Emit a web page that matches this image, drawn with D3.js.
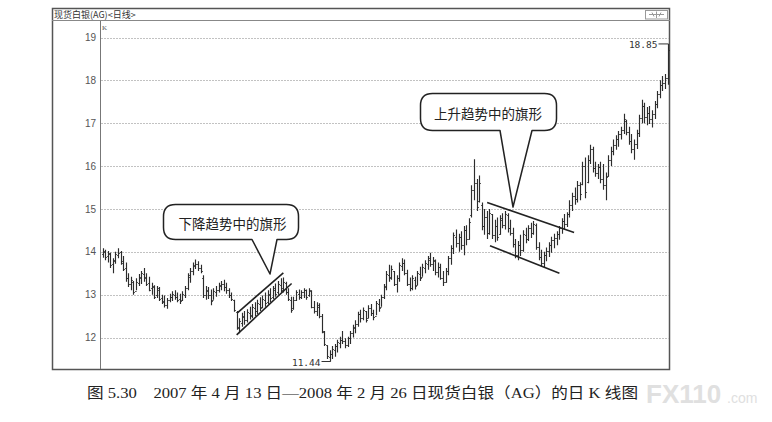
<!DOCTYPE html>
<html><head><meta charset="utf-8">
<script src="https://cdn.jsdelivr.net/npm/d3@7"></script>
<style>body{margin:0;background:#fff}svg{display:block}</style>
</head><body><svg id="c" width="772" height="422"></svg>
<script>
const chartTitle = "现货白银(AG)<日线>";
const caption = "图 5.30　2007 年 4 月 13 日—2008 年 2 月 26 日现货白银（AG）的日 K 线图";
const yTicks = [12, 13, 14, 15, 16, 17, 18, 19];
const opens = [
13.95,14.00,13.90,13.95,13.72,13.78,13.92,14.00,13.78,13.62,
13.40,13.25,13.30,13.08,13.28,13.40,13.48,13.42,13.28,13.15,
13.18,12.98,13.12,12.92,12.85,12.75,12.88,12.95,13.00,12.95,
12.90,12.88,13.00,13.15,13.42,13.55,13.68,13.72,13.62,13.40,
13.00,13.08,12.98,12.88,13.05,13.10,13.20,13.25,13.18,13.10,
12.98,12.88,12.60,12.22,12.35,12.48,12.42,12.58,12.52,12.70,
12.62,12.78,12.72,12.88,12.82,13.00,12.95,13.12,13.05,13.22,
13.15,13.28,13.05,12.88,12.68,12.88,13.02,12.95,13.05,13.10,
12.98,13.08,12.72,12.62,12.72,12.50,12.12,11.82,11.55,11.62,
11.70,11.80,11.88,11.95,11.92,11.82,11.98,12.10,12.22,12.32,
12.55,12.45,12.62,12.45,12.70,12.58,12.50,12.78,12.72,12.95,
13.18,13.45,13.42,13.55,13.25,13.38,13.68,13.75,13.50,13.25,
13.15,13.35,13.22,13.48,13.42,13.62,13.72,13.82,13.72,13.78,
13.52,13.65,13.40,13.30,13.55,13.85,14.10,14.35,14.20,14.35,
14.15,14.50,14.30,14.85,15.45,15.60,15.18,15.10,14.60,14.80,
14.45,14.88,14.40,14.60,14.42,14.75,14.62,14.85,14.55,14.45,
14.18,13.92,14.15,14.05,14.40,14.30,14.55,14.45,14.62,14.12,
13.88,13.75,13.92,14.02,14.15,14.28,14.32,14.42,14.55,14.72,
14.65,14.88,15.10,15.30,15.22,15.55,15.58,16.00,15.62,16.15,
16.40,15.95,15.85,15.98,15.70,15.55,15.78,16.15,16.35,16.50,
16.62,16.75,16.85,17.05,16.80,16.58,16.40,16.52,16.78,17.12,
17.40,17.15,17.25,17.10,17.22,17.45,17.68,17.90,17.95,18.05];
const highs = [
14.08,14.05,14.02,13.98,13.85,14.00,14.08,14.02,13.90,13.75,
13.50,13.42,13.32,13.38,13.48,13.55,13.62,13.50,13.42,13.28,
13.22,13.20,13.18,13.00,12.98,12.92,13.02,13.08,13.10,13.05,
13.02,13.08,13.20,13.50,13.62,13.75,13.82,13.78,13.70,13.45,
13.20,13.18,13.12,13.15,13.20,13.28,13.32,13.35,13.28,13.15,
13.05,12.88,12.62,12.45,12.58,12.62,12.66,12.72,12.78,12.82,
12.88,12.94,12.98,13.05,13.10,13.15,13.20,13.26,13.32,13.38,
13.40,13.30,13.15,12.95,12.95,13.10,13.12,13.10,13.15,13.12,
13.15,13.10,12.85,12.82,12.80,12.55,12.15,11.82,11.70,11.80,
11.85,11.95,12.02,12.15,11.98,12.02,12.15,12.30,12.40,12.60,
12.65,12.70,12.62,12.75,12.78,12.65,12.85,12.90,13.00,13.25,
13.55,13.70,13.68,13.55,13.45,13.75,13.85,13.82,13.58,13.40,
13.45,13.42,13.55,13.65,13.72,13.80,13.90,13.98,13.88,13.82,
13.75,13.72,13.55,13.62,13.90,14.15,14.45,14.52,14.42,14.48,
14.60,14.62,14.78,15.55,16.16,15.70,15.78,15.15,15.00,14.95,
15.00,14.88,14.75,14.80,14.85,14.90,14.95,14.90,14.75,14.56,
14.30,14.25,14.40,14.50,14.56,14.62,14.68,14.72,14.66,14.22,
14.05,14.00,14.10,14.22,14.35,14.42,14.48,14.60,14.78,14.88,
14.92,15.20,15.38,15.50,15.65,15.62,16.10,16.20,16.25,16.50,
16.45,16.10,16.05,16.10,16.05,15.85,16.25,16.45,16.62,16.72,
16.82,16.92,17.22,17.08,16.92,16.75,16.62,16.85,17.20,17.55,
17.48,17.38,17.40,17.30,17.52,17.75,18.00,18.10,18.15,18.85];
const lows = [
13.86,13.80,13.75,13.62,13.50,13.72,13.85,13.70,13.55,13.30,
13.18,13.10,13.00,13.10,13.20,13.25,13.30,13.20,13.08,13.00,
12.90,12.92,12.85,12.78,12.70,12.67,12.82,12.85,12.88,12.82,
12.78,12.85,12.92,13.10,13.28,13.45,13.60,13.55,13.50,12.92,
12.88,12.90,12.75,12.88,12.95,13.05,13.10,13.08,13.02,12.92,
12.85,12.60,12.18,12.10,12.25,12.30,12.35,12.42,12.45,12.50,
12.55,12.62,12.68,12.72,12.78,12.82,12.90,12.95,13.00,13.05,
13.05,13.00,12.85,12.58,12.65,12.85,12.88,12.90,12.92,12.88,
12.95,12.68,12.56,12.50,12.45,12.10,11.80,11.50,11.44,11.50,
11.55,11.65,11.75,11.85,11.75,11.78,11.85,12.00,12.10,12.25,
12.35,12.40,12.35,12.45,12.50,12.40,12.52,12.60,12.72,12.90,
13.10,13.30,13.35,13.20,13.05,13.30,13.55,13.45,13.20,13.08,
13.10,13.12,13.22,13.32,13.42,13.50,13.58,13.65,13.55,13.45,
13.40,13.35,13.20,13.28,13.45,13.70,13.95,14.10,14.00,14.05,
13.92,14.15,14.28,14.80,15.20,14.95,15.15,14.50,14.40,14.30,
14.40,14.30,14.22,14.26,14.40,14.55,14.52,14.45,14.38,14.10,
13.85,13.80,13.90,14.00,14.20,14.25,14.32,14.40,14.05,13.80,
13.65,13.63,13.78,13.88,13.98,14.08,14.15,14.28,14.42,14.52,
14.58,14.80,14.95,15.10,15.15,15.20,15.55,15.25,15.60,16.05,
15.85,15.75,15.70,15.60,15.45,15.20,15.75,16.00,16.25,16.38,
16.45,16.62,16.75,16.72,16.50,16.30,16.15,16.40,16.68,17.00,
17.00,16.95,16.98,16.90,17.10,17.35,17.58,17.75,17.80,17.90];
const closes = [
14.02,13.88,13.96,13.70,13.80,13.95,13.98,13.75,13.60,13.38,
13.25,13.35,13.05,13.30,13.42,13.50,13.40,13.25,13.12,13.20,
12.95,13.15,12.90,12.82,12.75,12.88,12.95,13.02,12.95,12.88,
12.85,13.02,13.15,13.45,13.55,13.70,13.72,13.62,13.55,13.00,
13.10,12.98,12.85,13.08,13.12,13.22,13.25,13.18,13.10,12.98,
12.90,12.65,12.25,12.38,12.50,12.40,12.60,12.50,12.72,12.62,
12.80,12.70,12.90,12.80,13.02,12.92,13.15,13.02,13.25,13.12,
13.30,13.05,12.90,12.65,12.88,13.05,12.95,13.05,13.10,12.95,
13.10,12.72,12.62,12.75,12.50,12.15,11.85,11.58,11.62,11.72,
11.80,11.90,11.95,11.92,11.82,11.98,12.10,12.25,12.32,12.55,
12.45,12.65,12.42,12.70,12.58,12.48,12.80,12.70,12.95,13.20,
13.48,13.40,13.60,13.25,13.38,13.70,13.75,13.50,13.25,13.15,
13.38,13.20,13.50,13.40,13.65,13.75,13.85,13.72,13.80,13.52,
13.65,13.40,13.30,13.55,13.85,14.10,14.38,14.20,14.35,14.15,
14.50,14.30,14.70,15.45,15.60,15.05,15.60,14.60,14.80,14.45,
14.90,14.40,14.60,14.35,14.78,14.62,14.88,14.55,14.45,14.18,
13.92,14.15,14.05,14.42,14.30,14.55,14.45,14.65,14.12,13.88,
13.75,13.92,14.02,14.15,14.28,14.32,14.42,14.55,14.72,14.65,
14.88,15.10,15.30,15.22,15.55,15.35,16.00,15.40,16.15,16.40,
15.95,15.85,15.98,15.70,15.55,15.75,16.15,16.35,16.50,16.62,
16.75,16.85,17.10,16.80,16.58,16.40,16.52,16.78,17.12,17.40,
17.15,17.25,17.10,17.22,17.45,17.68,17.90,17.95,18.05,18.70];
// flag channel lines: [bar index, price] endpoints
const flagDownUpper = [[52.4, 12.58], [70.1, 13.51]];
const flagDownLower = [[52.0, 12.06], [73.3, 13.26]];
const flagUpUpper = [[149.1, 15.15], [182.8, 14.45]];
const flagUpLower = [[150.2, 14.14], [177.1, 13.50]];
const calloutTexts = ["下降趋势中的旗形", "上升趋势中的旗形"];
const extremeHighLabel = "18.85";
const extremeLowLabel = "11.44";

const svg = d3.select("#c");
const n = closes.length;
const x = d3.scaleLinear().domain([0, n - 1]).range([102.5, 667.5]);
const y = d3.scaleLinear().domain([12, 19]).range([337.5, 37.5]);
const C = v => Math.round(v) + 0.5;

svg.append("rect").attr("width", 772).attr("height", 422).attr("fill", "#fff");

// outer frame
svg.append("rect").attr("x", 52.5).attr("y", 8.5).attr("width", 617).attr("height", 361)
  .attr("fill", "none").attr("stroke", "#555").attr("stroke-width", 1.5);
svg.append("line").attr("x1", 52).attr("x2", 670).attr("y1", 20.5).attr("y2", 20.5)
  .attr("stroke", "#888").attr("stroke-width", 1);
svg.append("text").attr("x", 54).attr("y", 17.5).text(chartTitle)
  .attr("font-family", "Noto Sans CJK SC").attr("font-size", 9).attr("fill", "#333");
// title-bar icon
const ic = svg.append("g").attr("stroke", "#999").attr("fill", "none");
ic.append("rect").attr("x", 645.5).attr("y", 10.5).attr("width", 22).attr("height", 8.5);
ic.append("path").attr("d", "M649,14.5H664M656.5,11.5V18M652,12.5L654,16.5M661,12.5L659,16.5");

// plot left line
svg.append("line").attr("x1", 100.5).attr("x2", 100.5).attr("y1", 21).attr("y2", 369)
  .attr("stroke", "#777");
svg.append("text").attr("x", 102).attr("y", 30).text("K")
  .attr("font-family", "Liberation Serif").attr("font-size", 7).attr("fill", "#555");

// gridlines
svg.append("g").selectAll("line").data(yTicks).join("line")
  .attr("x1", 101).attr("x2", 669).attr("y1", d => C(y(d))).attr("y2", d => C(y(d)))
  .attr("stroke", "#c2c2c2").attr("stroke-dasharray", "2,1");

// y axis labels
const ax = svg.append("g").attr("transform", "translate(100,0)")
  .call(d3.axisLeft(y).tickValues(yTicks).tickSize(0).tickPadding(4).tickFormat(d3.format("d")));
ax.select(".domain").remove();
ax.selectAll("text").attr("font-family", "Liberation Sans").attr("font-size", 10).attr("fill", "#555");

// OHLC bars
svg.append("g").selectAll("path").data(d3.range(n)).join("path")
  .attr("d", i => {
    const xx = C(x(i));
    return `M${xx},${y(highs[i])}V${y(lows[i])}M${xx - 1.3},${C(y(opens[i]))}H${xx}M${xx},${C(y(closes[i]))}H${xx + 1.3}`;
  })
  .attr("fill", "none").attr("stroke", "#2c2c2c").attr("stroke-width", 1.15);

// flag channel lines
const line = d3.line().x(d => x(d[0])).y(d => y(d[1]));
[flagDownUpper, flagDownLower, flagUpUpper, flagUpLower].forEach(seg => {
  svg.append("path").attr("d", line(seg)).attr("fill", "none")
    .attr("stroke", "#222").attr("stroke-width", 1.6);
});

// extreme labels
const hiX = x(n - 1), hiY = y(d3.max(highs));
svg.append("text").attr("x", hiX - 10).attr("y", hiY + 1).text(extremeHighLabel)
  .attr("text-anchor", "end").attr("dominant-baseline", "central")
  .attr("font-family", "DejaVu Sans Mono").attr("font-size", 9.5).attr("fill", "#333");
svg.append("path").attr("d", `M${hiX - 9},${hiY}H${C(hiX)}V${hiY + 3}`)
  .attr("fill", "none").attr("stroke", "#333");
const loI = d3.minIndex(lows), loX = x(loI), loY = y(lows[loI]);
svg.append("text").attr("x", loX - 9).attr("y", loY + 1).text(extremeLowLabel)
  .attr("text-anchor", "end").attr("dominant-baseline", "central")
  .attr("font-family", "DejaVu Sans Mono").attr("font-size", 9.5).attr("fill", "#333");
svg.append("path").attr("d", `M${loX - 8},${loY}H${C(loX)}V${loY - 3}`)
  .attr("fill", "none").attr("stroke", "#333");

// callouts
function bubble(x0, y0, x1, y1, r, pl, pr, tx, ty) {
  return `M${x0 + r},${y0}H${x1 - r}Q${x1},${y0} ${x1},${y0 + r}V${y1 - r}Q${x1},${y1} ${x1 - r},${y1}` +
    `H${pr}L${tx},${ty}L${pl},${y1}H${x0 + r}Q${x0},${y1} ${x0},${y1 - r}V${y0 + r}Q${x0},${y0} ${x0 + r},${y0}Z`;
}
const bubbles = [
  {b: [163.5, 204.5, 298.5, 239.5, 12, 252, 277, 270, 274], tx: 232.5, ty: 223, t: calloutTexts[0]},
  {b: [420.5, 93.5, 556.5, 130.5, 12, 500, 532, 513, 207], tx: 488, ty: 113, t: calloutTexts[1]}
];
bubbles.forEach(bb => {
  svg.append("path").attr("d", bubble(...bb.b)).attr("fill", "#fff")
    .attr("stroke", "#222").attr("stroke-width", 1.5).attr("stroke-linejoin", "round");
  svg.append("text").attr("x", bb.tx).attr("y", bb.ty).text(bb.t)
    .attr("text-anchor", "middle").attr("dominant-baseline", "central")
    .attr("font-family", "Noto Sans CJK SC").attr("font-size", 13.5).attr("fill", "#222");
});

// caption
svg.append("text").attr("x", 87).attr("y", 393).text(caption)
  .attr("dominant-baseline", "central")
  .attr("textLength", 551).attr("lengthAdjust", "spacingAndGlyphs")
  .attr("font-family", "Liberation Serif, Noto Sans CJK SC").attr("font-size", 15).attr("fill", "#222");

// watermark
svg.append("text").attr("x", 646).attr("y", 403).text("FX110")
  .attr("font-family", "Liberation Sans").attr("font-weight", "bold").attr("font-size", 26)
  .attr("fill", "#e0e0e0");
svg.append("text").attr("x", 727).attr("y", 403).text(".com")
  .attr("font-family", "Liberation Sans").attr("font-size", 14).attr("fill", "#e0e0e0");
</script></body></html>
